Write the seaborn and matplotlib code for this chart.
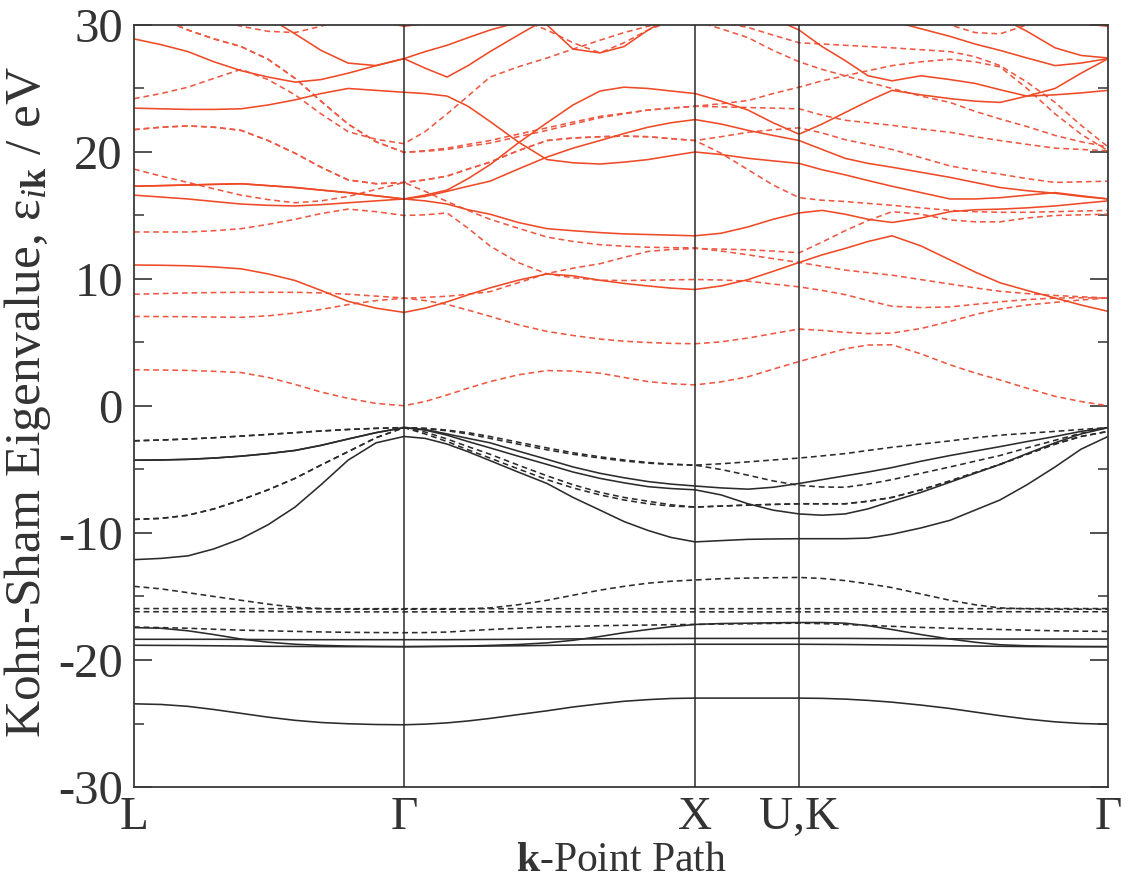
import matplotlib
matplotlib.use("Agg")
import matplotlib.pyplot as plt
from matplotlib.ticker import MultipleLocator
import seaborn as sns

# ---------------- data ----------------
# sample positions along the k-path (fraction of total path length)
K_GRID = [0.0, 0.0277, 0.0554, 0.0821, 0.1099, 0.1376, 0.1653, 0.1920, 0.2197, 0.2485, 0.2772,
          0.2988, 0.3214, 0.3429, 0.3655, 0.3943, 0.4240, 0.4507, 0.4784, 0.5031, 0.5277, 0.5513, 0.5760,
          0.6027, 0.6304, 0.6561, 0.6828,
          0.7064, 0.7300, 0.7536, 0.7782, 0.8080, 0.8378, 0.8634, 0.8891, 0.9168, 0.9456, 0.9723, 1.0]
K_TICKS = [0.0, 0.2772, 0.5760, 0.6828, 1.0]
K_LABELS = ["L", "Γ", "X", "U,K", "Γ"]
Y_TICKS = [-30, -20, -10, 0, 10, 20, 30]

# valence bands, solid (eV)
VS_G = [-23.45, -23.5, -23.65, -23.9, -24.2, -24.5, -24.75, -24.92, -25.02, -25.08, -25.1,
        -25.05, -24.95, -24.8, -24.6, -24.3, -24.0, -23.7, -23.45, -23.25, -23.12, -23.03, -23.0,
        -23.0, -23.0, -23.0, -23.0,
        -23.02, -23.08, -23.18, -23.32, -23.55, -23.82, -24.1, -24.38, -24.65, -24.87, -25.0, -25.06]
VS_E = [-18.37, -18.37, -18.37, -18.37, -18.38, -18.39, -18.4, -18.4, -18.4, -18.4, -18.4,
        -18.4, -18.4, -18.39, -18.38, -18.37, -18.35, -18.34, -18.33, -18.32, -18.3, -18.3, -18.3,
        -18.3, -18.3, -18.3, -18.3,
        -18.3, -18.3, -18.31, -18.32, -18.32, -18.33, -18.34, -18.35, -18.35, -18.35, -18.35, -18.35]
VS_F = [-18.84, -18.85, -18.86, -18.88, -18.9, -18.92, -18.93, -18.94, -18.95, -18.95, -18.95,
        -18.94, -18.93, -18.92, -18.9, -18.88, -18.85, -18.82, -18.8, -18.79, -18.78, -18.77, -18.76,
        -18.76, -18.76, -18.76, -18.76,
        -18.77, -18.78, -18.8, -18.82, -18.85, -18.88, -18.9, -18.92, -18.94, -18.95, -18.95, -18.95]
VS_D = [-17.45, -17.5, -17.7, -18.0, -18.35, -18.6, -18.76, -18.85, -18.9, -18.93, -18.95,
        -18.94, -18.92, -18.9, -18.85, -18.78, -18.65, -18.45, -18.15, -17.85, -17.6, -17.38, -17.2,
        -17.13, -17.1, -17.07, -17.05,
        -17.05, -17.1, -17.3, -17.6, -18.0, -18.35, -18.6, -18.8, -18.88, -18.92, -18.94, -18.95]
VS_C = [-12.1, -12.0, -11.8, -11.25, -10.45, -9.35, -7.96, -6.2, -4.27, -2.9, -2.4,
        -2.55, -3.0, -3.6, -4.3, -5.2, -6.1, -7.2, -8.2, -9.1, -9.8, -10.35, -10.7,
        -10.6, -10.5, -10.47, -10.45,
        -10.45, -10.45, -10.4, -10.1, -9.6, -9.0, -8.2, -7.4, -6.2, -4.8, -3.4, -2.4]
VS_A = [-4.27, -4.25, -4.2, -4.1, -3.95, -3.75, -3.5, -3.1, -2.6, -2.1, -1.7,
        -1.85, -2.2, -2.55, -2.9, -3.55, -4.2, -4.8, -5.3, -5.65, -5.95, -6.15, -6.3,
        -6.45, -6.55, -6.4, -6.1,
        -5.8, -5.5, -5.2, -4.85, -4.35, -3.9, -3.55, -3.2, -2.8, -2.4, -2.0, -1.7]
VS_B = [-4.27, -4.25, -4.2, -4.1, -3.95, -3.75, -3.5, -3.1, -2.6, -2.1, -1.7,
        -1.9, -2.3, -2.8, -3.3, -3.95, -4.6, -5.2, -5.7, -6.05, -6.35, -6.5, -6.6,
        -7.0, -7.7, -8.2, -8.5,
        -8.6, -8.5, -8.1, -7.5, -6.8, -6.0, -5.3, -4.6, -3.75, -2.9, -2.2, -1.7]

# valence bands, dashed (eV)
VD_1 = [-14.2, -14.4, -14.7, -15.0, -15.3, -15.6, -15.85, -15.95, -16.0, -16.0, -16.0,
        -16.0, -16.0, -15.97, -15.9, -15.65, -15.3, -14.9, -14.5, -14.2, -13.95, -13.8, -13.7,
        -13.6, -13.55, -13.52, -13.5,
        -13.58, -13.75, -14.0, -14.3, -14.8, -15.3, -15.65, -15.9, -15.97, -16.0, -16.0, -16.0]
VD_2 = [-15.95, -15.95, -15.95, -15.95, -15.95, -15.96, -15.96, -15.96, -15.96, -15.96, -15.96,
        -15.96, -15.96, -15.96, -15.96, -15.96, -15.96, -15.96, -15.96, -15.96, -15.96, -15.96, -15.96,
        -15.96, -15.96, -15.96, -15.96,
        -15.96, -15.96, -15.96, -15.96, -15.96, -15.96, -15.96, -15.95, -15.95, -15.95, -15.95, -15.95]
VD_3 = [-16.2, -16.2, -16.2, -16.2, -16.2, -16.21, -16.21, -16.21, -16.21, -16.21, -16.21,
        -16.21, -16.21, -16.21, -16.21, -16.21, -16.21, -16.21, -16.21, -16.21, -16.21, -16.21, -16.21,
        -16.21, -16.21, -16.21, -16.21,
        -16.21, -16.21, -16.21, -16.21, -16.21, -16.21, -16.21, -16.2, -16.2, -16.2, -16.2, -16.2]
VD_4 = [-17.4, -17.45, -17.5, -17.58, -17.65, -17.7, -17.75, -17.79, -17.82, -17.84, -17.85,
        -17.84, -17.8, -17.7, -17.6, -17.5, -17.4, -17.35, -17.3, -17.27, -17.25, -17.22, -17.2,
        -17.17, -17.15, -17.12, -17.1,
        -17.14, -17.2, -17.28, -17.35, -17.43, -17.5, -17.55, -17.6, -17.65, -17.7, -17.73, -17.75]
VD_A = [-2.74, -2.68, -2.6, -2.5, -2.37, -2.24, -2.1, -1.97, -1.85, -1.76, -1.7,
        -1.75, -1.9, -2.1, -2.4, -2.85, -3.3, -3.68, -4.0, -4.25, -4.45, -4.58, -4.66,
        -4.55, -4.4, -4.25, -4.1,
        -3.93, -3.75, -3.5, -3.25, -3.0, -2.75, -2.5, -2.3, -2.15, -2.0, -1.85, -1.7]
VD_B = [-2.74, -2.68, -2.6, -2.5, -2.37, -2.24, -2.1, -1.97, -1.85, -1.76, -1.7,
        -1.78, -1.95, -2.2, -2.55, -3.0, -3.45, -3.8, -4.1, -4.33, -4.5, -4.6, -4.66,
        -5.0, -5.45, -5.9, -6.25,
        -6.38, -6.4, -6.15, -5.8, -5.3, -4.8, -4.35, -3.9, -3.3, -2.7, -2.15, -1.7]
VD_C = [-8.93, -8.85, -8.6, -8.1, -7.4, -6.6, -5.7, -4.65, -3.6, -2.5, -1.7,
        -2.05, -2.6, -3.2, -3.8, -4.65, -5.5, -6.2, -6.8, -7.2, -7.5, -7.78, -7.96,
        -7.88, -7.8, -7.75, -7.7,
        -7.7, -7.7, -7.5, -7.2, -6.6, -5.9, -5.25, -4.6, -3.8, -3.0, -2.4, -2.0]
VD_D = [-8.93, -8.85, -8.6, -8.1, -7.4, -6.6, -5.7, -4.65, -3.6, -2.5, -1.7,
        -2.2, -2.8, -3.45, -4.1, -4.95, -5.8, -6.45, -7.0, -7.4, -7.7, -7.88, -7.96,
        -7.88, -7.8, -7.75, -7.7,
        -7.7, -7.7, -7.5, -7.2, -6.6, -5.9, -5.25, -4.6, -3.8, -3.0, -2.4, -2.0]

# conduction bands, solid (eV); values above 30 run off the top of the frame
RS_1 = [11.1, 11.08, 11.04, 10.95, 10.8, 10.4, 9.88, 9.1, 8.24, 7.7, 7.37,
        7.7, 8.2, 8.75, 9.3, 9.9, 10.4, 10.25, 9.9, 9.65, 9.45, 9.28, 9.17,
        9.45, 9.95, 10.6, 11.3,
        11.9, 12.4, 12.95, 13.4, 12.6, 11.5, 10.55, 9.7, 9.1, 8.5, 7.95, 7.45]
RS_2 = [16.6, 16.45, 16.3, 16.1, 15.9, 15.8, 15.75, 15.85, 16.0, 16.15, 16.3,
        16.15, 15.9, 15.45, 15.1, 14.45, 13.96, 13.8, 13.65, 13.55, 13.5, 13.45, 13.4,
        13.6, 14.1, 14.7, 15.2,
        15.4, 15.1, 14.7, 14.45, 14.8, 15.3, 15.45, 15.5, 15.6, 15.75, 15.95, 16.15]
RS_3 = [17.3, 17.35, 17.4, 17.45, 17.5, 17.35, 17.2, 17.0, 16.8, 16.55, 16.3,
        16.5, 16.9, 17.3, 17.7, 18.65, 19.6, 20.3, 20.9, 21.45, 21.95, 22.3, 22.55,
        22.2, 21.7, 21.3, 20.9,
        20.2, 19.5, 19.1, 18.8, 18.4, 18.0, 17.6, 17.2, 16.95, 16.75, 16.5, 16.3]
RS_4 = [17.3, 17.35, 17.4, 17.45, 17.5, 17.35, 17.2, 17.0, 16.8, 16.55, 16.3,
        16.6, 17.0, 17.9, 19.0, 20.7, 22.3, 23.7, 24.8, 25.1, 25.0, 24.8, 24.6,
        24.0, 23.3, 22.3, 21.4,
        22.2, 23.1, 24.0, 24.85, 24.5, 24.2, 24.0, 23.9, 24.4, 25.0, 26.2, 27.35]
RS_5 = [23.45, 23.4, 23.35, 23.35, 23.4, 23.7, 24.1, 24.6, 25.0, 24.85, 24.7,
        24.6, 24.4, 23.6, 22.4, 20.8, 19.4, 19.15, 19.05, 19.2, 19.4, 19.7, 20.0,
        19.8, 19.5, 19.3, 19.1,
        18.6, 18.2, 17.75, 17.3, 16.8, 16.3, 16.3, 16.4, 16.6, 16.8, 16.55, 16.3]
RS_6 = [28.9, 28.45, 27.9, 27.1, 26.4, 25.9, 25.5, 25.7, 26.2, 26.8, 27.35,
        26.6, 25.9, 26.8, 27.9, 29.2, 30.5, 31.5, 32.0, 32.0, 32.0, 32.0, 32.0,
        32.0, 31.5, 30.5, 29.6,
        28.3, 27.2, 26.0, 25.6, 26.0, 25.7, 25.4, 24.9, 24.4, 24.5, 24.65, 24.85]
RS_7 = [33.0, 32.5, 32.0, 31.6, 31.2, 30.6, 29.3, 28.0, 27.0, 26.8, 27.35,
        27.9, 28.4, 29.0, 29.6, 30.2, 30.8, 31.5, 32.0, 32.0, 32.0, 32.0, 32.0,
        32.0, 32.0, 32.0, 32.0,
        32.0, 31.5, 30.9, 30.3, 29.7, 29.1, 28.5, 28.0, 27.4, 26.8, 27.0, 27.35]
RS_8 = [32.0, 32.0, 32.0, 32.0, 32.0, 32.0, 32.0, 32.0, 32.0, 32.0, 32.0,
        32.0, 32.0, 32.0, 31.5, 30.8, 30.0, 28.1, 27.8, 28.3, 29.6, 30.6, 31.2,
        32.0, 32.0, 32.0, 32.0,
        33.0, 33.0, 32.5, 32.0, 31.8, 31.5, 31.0, 30.6, 29.5, 28.2, 27.6, 27.4]
RS_9 = [32.0, 32.0, 32.0, 32.0, 32.0, 32.0, 32.0, 32.0, 31.0, 30.3, 29.9,
        30.1, 30.4, 31.0, 32.0, 32.0, 32.0, 32.0, 32.0, 32.0, 32.0, 32.0, 32.0,
        32.0, 32.0, 32.0, 32.0,
        32.0, 32.0, 32.0, 32.0, 32.0, 32.0, 32.0, 32.0, 31.2, 30.5, 30.1, 29.9]

# conduction bands, dashed (eV)
RD_1 = [2.85, 2.83, 2.8, 2.73, 2.63, 2.25, 1.7, 1.1, 0.6, 0.2, 0.02,
        0.35, 0.87, 1.4, 1.92, 2.45, 2.79, 2.75, 2.58, 2.25, 1.92, 1.75, 1.66,
        1.9, 2.3, 2.9, 3.5,
        4.0, 4.5, 4.8, 4.82, 4.1, 3.24, 2.6, 2.05, 1.4, 0.76, 0.35, 0.02]
RD_2 = [7.05, 7.04, 7.03, 7.0, 6.98, 7.1, 7.32, 7.6, 7.98, 8.3, 8.48,
        8.55, 8.64, 8.8, 9.0, 9.7, 10.43, 10.85, 11.2, 11.7, 12.17, 12.32, 12.4,
        12.35, 12.3, 12.2, 12.06,
        12.9, 13.8, 14.6, 15.3, 15.1, 14.65, 14.5, 14.5, 14.8, 15.0, 15.05, 15.1]
RD_3 = [8.8, 8.85, 8.9, 8.93, 8.95, 8.95, 8.95, 8.9, 8.8, 8.65, 8.5,
        8.3, 8.0, 7.55, 7.06, 6.4, 5.87, 5.55, 5.27, 5.1, 5.0, 4.93, 4.9,
        5.05, 5.35, 5.7, 6.06,
        5.95, 5.8, 5.7, 5.74, 6.1, 6.66, 7.2, 7.64, 7.95, 8.16, 8.35, 8.5]
RD_4 = [13.7, 13.7, 13.7, 13.8, 13.96, 14.3, 14.7, 15.15, 15.5, 15.3, 15.0,
        15.05, 15.2, 14.0, 12.6, 11.3, 10.4, 10.1, 9.9, 9.88, 9.9, 9.93, 9.96,
        9.92, 9.83, 9.6, 9.38,
        9.1, 8.77, 8.3, 7.85, 7.75, 7.8, 8.0, 8.2, 8.38, 8.5, 8.52, 8.5]
RD_5 = [18.65, 18.1, 17.6, 17.1, 16.6, 16.25, 16.0, 16.15, 16.5, 17.05, 17.6,
        16.9, 16.1, 15.4, 14.7, 14.0, 13.3, 12.95, 12.7, 12.58, 12.5, 12.47, 12.45,
        12.2, 11.9, 11.6, 11.3,
        11.0, 10.7, 10.5, 10.3, 9.95, 9.6, 9.3, 9.03, 8.85, 8.7, 8.6, 8.5]
RD_6 = [21.76, 21.95, 22.05, 21.95, 21.7, 20.9, 19.9, 18.8, 17.8, 17.5, 17.6,
        17.8, 18.1, 18.65, 19.2, 20.1, 20.9, 21.1, 21.2, 21.25, 21.2, 21.05, 20.9,
        21.2, 21.55, 21.75, 21.9,
        21.5, 20.97, 20.6, 20.2, 19.55, 18.9, 18.55, 18.25, 17.9, 17.6, 17.65, 17.7]
RD_7 = [21.76, 21.95, 22.05, 21.95, 21.7, 20.9, 19.9, 18.8, 17.8, 17.5, 17.6,
        17.8, 18.1, 18.65, 19.2, 20.1, 20.9, 21.1, 21.2, 21.25, 21.2, 21.05, 20.9,
        19.9, 18.6, 17.4, 16.4,
        16.2, 16.1, 15.95, 15.8, 15.6, 15.4, 15.3, 15.25, 15.25, 15.3, 15.35, 15.4]
RD_8 = [24.2, 24.6, 25.1, 25.8, 26.5, 25.7, 24.5, 23.0, 21.6, 21.0, 20.65,
        21.6, 23.0, 24.4, 25.9, 26.7, 27.4, 28.1, 28.8, 29.4, 29.9, 30.3, 30.5,
        30.2, 29.8, 29.2, 28.6,
        28.5, 28.4, 28.3, 28.2, 28.05, 27.9, 27.5, 26.8, 25.5, 23.9, 22.1, 20.4]
RD_9 = [31.5, 30.5, 29.6, 28.9, 28.3, 27.3, 25.8, 24.0, 22.2, 20.8, 19.97,
        20.1, 20.3, 20.6, 20.9, 21.4, 21.9, 22.35, 22.8, 23.05, 23.3, 23.45, 23.6,
        23.8, 24.05, 24.6, 25.1,
        25.6, 26.0, 26.4, 26.8, 27.1, 27.3, 27.1, 26.7, 25.0, 23.0, 21.4, 20.1]
RD_10 = [31.5, 30.5, 29.6, 28.9, 28.3, 27.3, 25.8, 24.0, 22.2, 20.8, 19.97,
         20.05, 20.2, 20.45, 20.7, 21.2, 21.7, 22.2, 22.7, 23.0, 23.3, 23.45, 23.6,
         23.55, 23.5, 23.45, 23.4,
         22.9, 22.5, 22.3, 22.1, 21.8, 21.55, 21.2, 20.9, 20.6, 20.3, 20.2, 20.1]
RD_11 = [32.0, 31.5, 31.0, 30.4, 29.9, 29.5, 29.4, 29.9, 30.6, 31.5, 32.0,
         32.0, 32.0, 32.0, 32.0, 32.0, 32.0, 32.0, 32.0, 32.0, 32.0, 32.0, 32.0,
         32.0, 32.0, 32.0, 32.0,
         32.0, 32.0, 32.0, 32.0, 32.0, 32.0, 32.0, 32.0, 32.0, 32.0, 32.0, 32.0]
RD_12 = [32.0, 32.0, 32.0, 32.0, 32.0, 32.0, 32.0, 32.0, 32.0, 32.0, 32.0,
         32.0, 32.0, 32.0, 31.5, 30.5, 29.6, 28.6, 27.8, 28.6, 29.6, 30.3, 31.0,
         32.0, 32.0, 32.0, 32.0,
         32.0, 32.0, 32.0, 32.0, 32.0, 32.0, 32.0, 32.0, 32.0, 32.0, 32.0, 32.0]
RD_13 = [32.0, 32.0, 32.0, 32.0, 32.0, 32.0, 32.0, 32.0, 32.0, 32.0, 32.0,
         32.0, 32.0, 32.0, 32.0, 32.0, 32.0, 32.0, 32.0, 32.0, 31.2, 30.8, 30.3,
         29.7, 29.0, 28.0, 27.1,
         26.5, 26.0, 25.5, 25.0, 24.4, 23.9, 23.2, 22.6, 22.0, 21.3, 20.8, 20.4]
RD_14 = [32.0, 32.0, 32.0, 32.0, 32.0, 32.0, 32.0, 32.0, 32.0, 32.0, 32.0,
         32.0, 32.0, 32.0, 32.0, 32.0, 32.0, 32.0, 32.0, 32.0, 32.0, 32.0, 32.0,
         32.0, 32.0, 32.0, 32.0,
         32.0, 32.0, 32.0, 31.5, 30.6, 30.0, 29.4, 29.3, 30.0, 31.0, 32.0, 32.0]
RD_15 = [32.0, 32.0, 32.0, 32.0, 32.0, 32.0, 32.0, 32.0, 31.2, 30.6, 30.2,
         30.3, 30.6, 31.0, 31.5, 32.0, 32.0, 32.0, 32.0, 32.0, 32.0, 32.0, 32.0,
         32.0, 32.0, 32.0, 32.0,
         32.0, 32.0, 32.0, 32.0, 32.0, 32.0, 32.0, 32.0, 32.0, 32.0, 32.0, 32.0]

VAL_SOLID = [VS_G, VS_E, VS_F, VS_D, VS_C, VS_A, VS_B]
VAL_DASHED = [VD_1, VD_2, VD_3, VD_4, VD_A, VD_B, VD_C, VD_D]
CON_SOLID = [RS_1, RS_2, RS_3, RS_4, RS_5, RS_6, RS_7, RS_8, RS_9]
CON_DASHED = [RD_1, RD_2, RD_3, RD_4, RD_5, RD_6, RD_7, RD_8, RD_9, RD_10,
              RD_11, RD_12, RD_13, RD_14, RD_15]

# ---------------- style ----------------
sns.set_theme(style="ticks")
plt.rcParams["font.family"] = ["Liberation Serif", "DejaVu Serif"]
plt.rcParams["mathtext.fontset"] = "custom"
plt.rcParams["mathtext.rm"] = "Liberation Serif"
plt.rcParams["mathtext.it"] = "Liberation Serif:italic"
plt.rcParams["mathtext.bf"] = "Liberation Serif:bold"
plt.rcParams["axes.unicode_minus"] = False
plt.rcParams["lines.dashed_pattern"] = [3.6, 2.4]

BLACK = "#2b2b2b"
RED_SOLID = "#ef4a26"
RED_DASHED = "#ee5842"
LW = 1.15

fig = plt.figure(figsize=(11.31, 8.82), dpi=100)
ax = fig.add_axes([0.1185, 0.1077, 0.8612, 0.8640])


def draw(vals, color, ls):
    sns.lineplot(x=K_GRID, y=vals, ax=ax, color=color, linestyle=ls,
                 linewidth=LW, estimator=None, sort=False, legend=False)


for band in CON_DASHED:
    draw(band, RED_DASHED, "--")
for band in CON_SOLID:
    draw(band, RED_SOLID, "-")
for band in VAL_DASHED:
    draw(band, BLACK, "--")
for band in VAL_SOLID:
    draw(band, BLACK, "-")

for k in K_TICKS[1:-1]:
    ax.axvline(k, color=BLACK, lw=1.1, zorder=5)

ax.set_xlim(K_TICKS[0], K_TICKS[-1])
ax.set_ylim(Y_TICKS[0], Y_TICKS[-1])
ax.set_xticks(K_TICKS)
ax.set_xticklabels(K_LABELS)
ax.set_yticks(Y_TICKS)
ax.set_yticklabels([str(t) for t in Y_TICKS])
ax.yaxis.set_minor_locator(MultipleLocator(5))

ax.tick_params(axis="x", length=0, pad=7, labelsize=34, colors="#333333")
ax.tick_params(axis="y", which="major", direction="in", length=13, width=1.2,
               left=True, right=True, pad=8, labelsize=35, colors="#333333")
ax.tick_params(axis="y", which="minor", direction="in", length=7, width=1.1,
               left=True, right=True, colors="#333333")

for s in ax.spines.values():
    s.set_color("#3a3a3a")
    s.set_linewidth(1.3)
    s.set_visible(True)

ax.set_xlabel(r"$\mathbf{k}$-Point Path", fontsize=30, color="#333333", va="top")
ax.xaxis.set_label_coords(0.5, -0.071)
ax.set_ylabel("Kohn-Sham Eigenvalue, ε$_{\\mathit{i}\\mathbf{k}}$ / eV", fontsize=37, color="#333333")
ax.yaxis.set_label_coords(-0.083, 0.505)

fig.savefig("out.png", dpi=100, facecolor="white")
